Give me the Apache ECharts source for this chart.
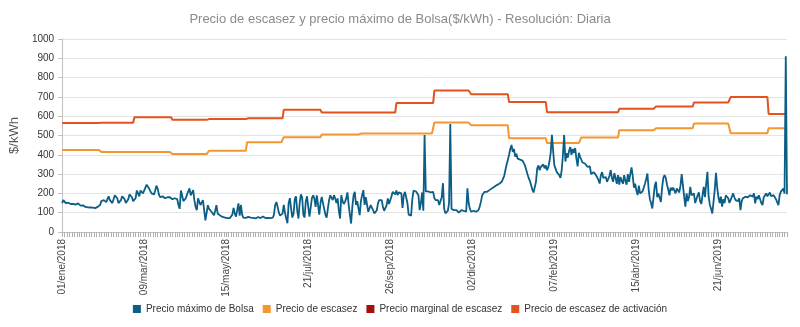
<!DOCTYPE html>
<html>
<head>
<meta charset="utf-8">
<script src="https://cdn.jsdelivr.net/npm/echarts@6/dist/echarts.min.js"></script>
<style>
html,body{margin:0;padding:0;background:#fff;}
#chart{width:800px;height:327px;}
</style>
</head>
<body>
<div id="chart"></div>
<script>
// ---- Data ----
var startDate = [2018, 0, 1];          // 01/ene/2018, daily resolution
var dayCount = 593;                    // 01/ene/2018 .. 16/ago/2019
var monthNames = ['ene','feb','mar','abr','may','jun','jul','ago','sep','oct','nov','dic'];

// Monthly step values, ene/2018 .. ago/2019
var precioEscasezMensual = [425,415,415,404,421,465,491,505,510,510,567,553,486,461,490,527,537,562,512,537];
var precioActivacionMensual = [565,566,595,581,585,589,633,619,619,668,733,714,673,621,621,638,650,671,699,612];
var precioMarginalMensual = [];

// Daily "Precio máximo de Bolsa"
var precioMaximoBolsa = [
150,165,158,150,148,152,147,145,143,146,140,142,138,148,140,137,135,138,133,130,132,128,130,127,125,126,128,124,127,130,135,
140,160,150,165,175,155,170,185,165,160,
150,170,190,200,175,150,145,165,185,195,
170,150,140,170,195,200,180,160,150,175,
215,200,185,215,225,200,210,230,245,240,
225,215,200,190,195,215,240,225,195,180,
175,185,180,175,185,180,175,180,185,170,
160,175,185,170,140,
120,215,190,160,
160,175,195,210,226,190,200,217,165,130,
113,174,156,140,150,165,113,60,50,139,
120,110,105,96,87,110,139,96,90,86,
84,78,75,
75,73,72,74,72,75,90,
125,95,80,78,148,85,140,90,75,72,
73,75,78,72,74,76,73,72,70,74,
78,75,72,73,80,74,72,71,73,75,
72,73,74,90,140,155,130,100,85,75,
95,140,100,70,45,
150,175,120,75,95,170,185,110,70,150,
195,180,90,75,160,185,130,80,90,175,
190,
174,130,190,185,90,150,182,175,120,90,
75,70,165,190,185,165,191,175,150,174,
110,70,191,160,145,156,174,205,140,90,
44,130,190,208,140,160,150,87,160,191,
217,140,180,190,105,122,139,125,113,96,
100,113,150,165,174,165,130,110,120,139,
174,145,139,185,208,200,195,215,191,
205,215,200,125,190,208,200,150,90,80,
85,170,215,205,210,200,190,113,150,205,
110,503,210,205,210,208,205,200,208,176,
165,160,165,140,130,180,253,120,97,100,
110,150,560,120,
122,113,120,113,105,100,110,113,105,110,108,
105,226,150,120,105,108,110,113,105,110,
113,131,156,190,200,208,205,208,212,217,
220,226,234,235,240,243,246,250,255,260,
275,290,320,350,373,400,430,451,415,430,
390,405,380,390,375,380,370,360,345,335,
300,280,265,243,220,205,200,260,330,345,
320,338,330,350,330,345,320,335,365,410,
503,420,345,335,310,300,295,280,320,400,
503,365,408,385,420,440,400,430,
410,435,380,340,410,390,380,360,365,355,
345,338,345,340,300,295,310,300,295,300,
270,251,295,310,280,270,285,260,275,290,
320,280,260,305,280,250,295,245,285,265,
250,295,265,245,300,260,300,335,290,230,
250,215,191,240,200,191,210,200,250,275,
303,220,170,150,122,180,240,260,180,200,
190,156,230,280,295,280,245,220,190,230,
215,230,240,200,225,230,205,240,300,309,
183,131,200,160,180,234,190,195,200,150,
170,190,205,160,145,190,234,180,250,312,
183,140,120,96,87,220,307,230,180,150,
183,131,170,150,190,191,175,150,140,183,
200,180,165,170,160,175,113,160,175,174,
183,183,180,174,191,185,183,200,148,183,
170,190,180,150,139,180,170,200,185,180,
205,185,183,191,200,170,160,139,191,209,
217,225,199,910,195
];

var seriesNames = ['Precio máximo de Bolsa','Precio de escasez','Precio marginal de escasez','Precio de escasez de activación'];
var seriesColors = ['#0b5e86','#f5972f','#a30f0f','#e2531d'];
var titleText = 'Precio de escasez y precio máximo de Bolsa($/kWh) - Resolución: Diaria';

// ---- Build categories & daily step arrays ----
var categories = [], escasezDiario = [], activacionDiario = [], marginalDiario = [];
for (var i = 0; i < dayCount; i++) {
  var d = new Date(Date.UTC(startDate[0], startDate[1], startDate[2] + i));
  var dd = d.getUTCDate(), mm = d.getUTCMonth(), yy = d.getUTCFullYear();
  categories.push((dd < 10 ? '0' : '') + dd + '/' + monthNames[mm] + '/' + yy);
  var mi = (yy - startDate[0]) * 12 + mm - startDate[1];
  escasezDiario.push(precioEscasezMensual[mi]);
  activacionDiario.push(precioActivacionMensual[mi]);
  if (precioMarginalMensual.length) marginalDiario.push(precioMarginalMensual[mi]);
}

var font = 'Liberation Sans, Arial, sans-serif';
var chart = echarts.init(document.getElementById('chart'), null, {renderer: 'canvas'});
chart.setOption({
  animation: false,
  textStyle: {fontFamily: font},
  title: {
    text: titleText, left: 'center', top: 8,
    textStyle: {fontSize: 13, fontWeight: 'normal', color: '#8a8a8a', fontFamily: font}
  },
  legend: {
    bottom: 8, left: 'center', icon: 'rect', itemWidth: 8, itemHeight: 8, itemGap: 9,
    textStyle: {fontSize: 10, color: '#333', fontFamily: font},
    data: seriesNames.map(function (n, k) { return {name: n, itemStyle: {color: seriesColors[k]}}; })
  },
  grid: {left: 62, right: 13, top: 39, bottom: 95, containLabel: false},
  xAxis: {
    type: 'category', data: categories, boundaryGap: false,
    axisLine: {lineStyle: {color: '#c0c0c0', width: 1}},
    axisTick: {interval: 1, length: 5, lineStyle: {color: '#b0b0b0'}},
    axisLabel: {interval: 66, rotate: 90, fontSize: 10, color: '#444', margin: 7, fontFamily: font},
    splitLine: {show: false}
  },
  yAxis: {
    type: 'value', min: 0, max: 1000, interval: 100,
    name: '$/kWh', nameLocation: 'middle', nameGap: 38,
    nameTextStyle: {fontSize: 13, color: '#555', fontFamily: font},
    axisLine: {show: true, lineStyle: {color: '#c0c0c0'}},
    axisTick: {show: true, length: 4, lineStyle: {color: '#c0c0c0'}},
    axisLabel: {fontSize: 10, color: '#333', margin: 8, fontFamily: font,
                formatter: function (v) { return String(v); }},
    splitLine: {lineStyle: {color: '#e4e4e4', width: 1}}
  },
  series: [
    {name: seriesNames[0], type: 'line', data: precioMaximoBolsa, showSymbol: false, symbol: 'none', z: 5,
     lineStyle: {color: seriesColors[0], width: 1.8}, itemStyle: {color: seriesColors[0]}},
    {name: seriesNames[1], type: 'line', data: escasezDiario, showSymbol: false, symbol: 'none', z: 3,
     lineStyle: {color: seriesColors[1], width: 2}, itemStyle: {color: seriesColors[1]}},
    {name: seriesNames[2], type: 'line', data: marginalDiario, showSymbol: false, symbol: 'none', z: 2,
     lineStyle: {color: seriesColors[2], width: 2}, itemStyle: {color: seriesColors[2]}},
    {name: seriesNames[3], type: 'line', data: activacionDiario, showSymbol: false, symbol: 'none', z: 3,
     lineStyle: {color: seriesColors[3], width: 2}, itemStyle: {color: seriesColors[3]}}
  ]
});
</script>
</body>
</html>
